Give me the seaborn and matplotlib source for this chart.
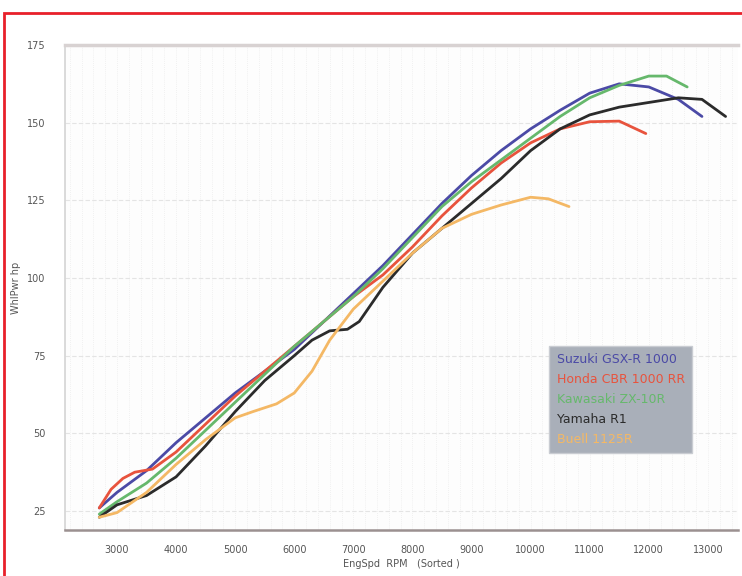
import pandas as pd
import seaborn as sns
import matplotlib.pyplot as plt
from matplotlib.patches import Rectangle

# dyno curves (rpm, wheel hp)
suzuki_rpm = [2700, 3000, 3500, 4000, 4500, 5000, 5500, 6000, 6500, 7000, 7500, 8000,
              8500, 9000, 9500, 10000, 10500, 11000, 11500, 12000, 12500, 12900]
suzuki_hp = [26, 31, 38, 47, 55, 63, 70, 77, 86, 95, 104, 114,
             124, 133, 141, 148, 154, 159.5, 162.5, 161.5, 157.5, 152]

honda_rpm = [2700, 2900, 3100, 3300, 3600, 4000, 4500, 5000, 5500, 6000, 6500, 7000,
             7500, 8000, 8500, 9000, 9500, 10000, 10500, 11000, 11500, 11950]
honda_hp = [26, 32, 35.5, 37.5, 38.5, 44, 53, 62, 70, 78, 86, 94,
            101, 110, 120, 129, 137, 143.5, 148, 150.3, 150.5, 146.5]

kawa_rpm = [2700, 3000, 3500, 4000, 4500, 5000, 5500, 6000, 6500, 7000, 7500, 8000,
            8500, 9000, 9500, 10000, 10500, 11000, 11500, 12000, 12300, 12650]
kawa_hp = [24, 28, 34, 42, 51, 60, 69, 78, 86, 94, 103, 113,
           123, 131, 138, 145, 152, 158, 162, 165, 165, 161.5]

yamaha_rpm = [2700, 3000, 3500, 4000, 4500, 5000, 5500, 6000, 6300, 6600, 6900, 7100,
              7500, 8000, 8500, 9000, 9500, 10000, 10500, 11000, 11500, 12000, 12500,
              12900, 13300]
yamaha_hp = [23, 27, 30, 36, 46, 57, 67, 75, 80, 83, 83.5, 86,
             97, 108, 116, 124, 132, 141, 148, 152.5, 155, 156.5, 158,
             157.5, 152]

buell_rpm = [2700, 3000, 3500, 4000, 4500, 5000, 5300, 5700, 6000, 6300, 6600, 7000,
             7500, 8000, 8500, 9000, 9500, 10000, 10300, 10650]
buell_hp = [23, 24.5, 31, 40, 48, 55, 57, 59.5, 63, 70, 80, 90,
            99, 108, 116, 120.5, 123.5, 126, 125.5, 123]

bikes = ["Suzuki GSX-R 1000", "Honda CBR 1000 RR", "Kawasaki ZX-10R", "Yamaha R1", "Buell 1125R"]
colors = ["#4b4aa6", "#e8533d", "#66b86c", "#2b2b2b", "#f4b865"]
x_ticks = [3000, 4000, 5000, 6000, 7000, 8000, 9000, 10000, 11000, 12000, 13000]
y_ticks = [25, 50, 75, 100, 125, 150, 175]

curves = [(suzuki_rpm, suzuki_hp), (honda_rpm, honda_hp), (kawa_rpm, kawa_hp),
          (yamaha_rpm, yamaha_hp), (buell_rpm, buell_hp)]
df = pd.concat(
    [pd.DataFrame({"rpm": r, "hp": h, "bike": b}) for (r, h), b in zip(curves, bikes)],
    ignore_index=True,
)

sns.set_style("white")
plt.rcParams["font.family"] = ["DejaVu Sans"]

fig = plt.figure(figsize=(7.42, 5.76), dpi=100)
ax = fig.add_axes([65 / 742, 1 - 530 / 576, 673 / 742, 485 / 576])
ax.set_facecolor("#fdfdfd")

sns.lineplot(data=df, x="rpm", y="hp", hue="bike", hue_order=bikes, palette=colors,
             sort=False, linewidth=2, ax=ax, legend=False)

ax.set_xlim(2120, 13510)
ax.set_ylim(18.9, 175)

# grid: fine rpm lines, hp lines at labels
for xv in range(2200, 13600, 200):
    ax.axvline(xv, color="#ececec", lw=0.6, ls=(0, (1, 1.5)), zorder=0)
for yv in y_ticks[:-1]:
    ax.axhline(yv, color="#e4e4e4", lw=0.8, ls=(0, (4, 2)), zorder=0)

ax.set_xticks(x_ticks)
ax.set_yticks(y_ticks)
ax.tick_params(axis="x", length=7, width=1, color="#9b9292", labelsize=7,
               labelcolor="#555555", pad=4)
ax.tick_params(axis="y", length=0, labelsize=7, labelcolor="#555555", pad=14)

ax.spines["right"].set_visible(False)
ax.spines["top"].set_color("#d8d2d2")
ax.spines["top"].set_linewidth(2.5)
ax.spines["left"].set_color("#d4d4d4")
ax.spines["left"].set_linewidth(1.2)
ax.spines["bottom"].set_color("#9b9090")
ax.spines["bottom"].set_linewidth(1.8)

ax.set_xlabel("EngSpd  RPM   (Sorted )", fontsize=7, color="#555555", labelpad=3)
ax.set_ylabel("WhlPwr hp", fontsize=7, color="#555555", labelpad=4)

# legend: coloured names on a grey panel
handles = [plt.Line2D([], [], color=c, lw=0) for c in colors]
leg = ax.legend(handles, bikes, loc="upper left", bbox_to_anchor=(0.71, 0.393),
                handlelength=0, handletextpad=0, fontsize=9, labelcolor=colors,
                frameon=True, facecolor="#a9afb9", edgecolor="#c9ccd2", framealpha=1,
                fancybox=False, labelspacing=0.55, borderpad=0.6)

# red page frame
fig.patches.append(Rectangle((4 / 742, -0.1), 1.2, 1 - 13 / 576 + 0.1, fill=False,
                             edgecolor="#e8202a", lw=2, transform=fig.transFigure))

fig.savefig("out.png", dpi=100)
